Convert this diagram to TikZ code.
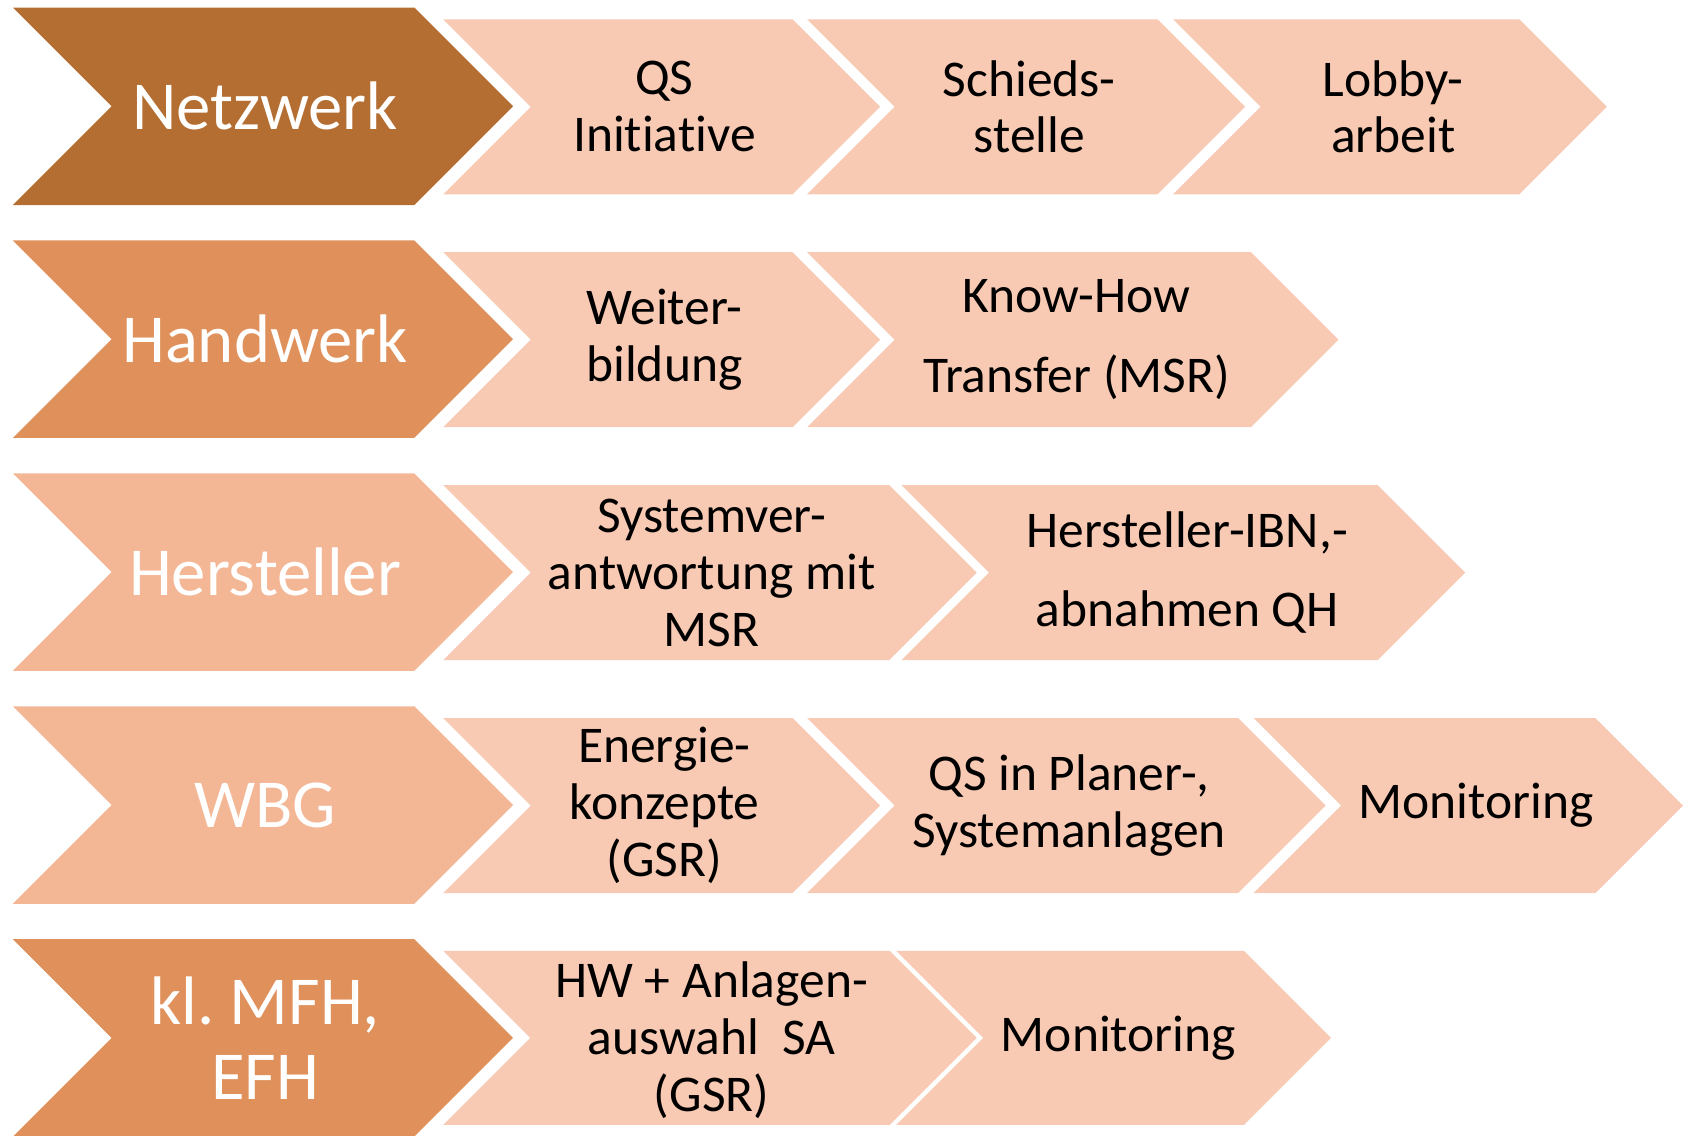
\documentclass[tikz,border=0pt]{standalone}
\usepackage{fontspec}
\setmainfont[Ligatures=NoCommon]{Carlito}
\frenchspacing

\definecolor{netz}{HTML}{B46E32}
\definecolor{hand}{HTML}{E0905A}
\definecolor{herst}{HTML}{F4B796}
\definecolor{schritt}{HTML}{F8CAB4}

\tikzset{
	bigtxt/.style = {text=white, font=\fontsize{32}{35}\selectfont, align=center, inner sep=0pt},
	smalltxt/.style = {text=black, font=\fontsize{24}{26.5}\selectfont, align=center, inner sep=0pt},
	widetxt/.style = {smalltxt, font=\fontsize{24}{37}\selectfont}
}

% left x, top y, tip x, bottom y, colour
\newcommand{\chevron}[5]{
	\fill[#5] (#1,#2) -- ({#3-(#4-#2)/2},#2) -- (#3,{(#2+#4)/2}) -- ({#3-(#4-#2)/2},#4)
		-- (#1,#4) -- ({#1+(#4-#2)/2},{(#2+#4)/2}) -- cycle;
}

\begin{document}
\begin{tikzpicture}[x=0.5pt, y=-0.5pt]
	\useasboundingbox (0,0) rectangle (1568,1058);
	% first column
	\foreach \name/\col/\txt [count=\r from 0, evaluate=\r as \top using int(7+217*\r),
		evaluate=\r as \bot using int(191+217*\r)] in
		{netzwerk/netz/Netzwerk, handwerk/hand/Handwerk, hersteller/herst/Hersteller,
		 wbg/herst/WBG, mfh/hand/{kl. MFH,\\EFH}}
	{
		\chevron{12}{\top}{478}{\bot}{\col}
		\node[bigtxt] (\name) at (247,{(\top+\bot)/2}) {\txt};
	}
	% Netzwerk
	\chevron{413}{18}{820}{181}{schritt}
	\chevron{752}{18}{1160}{181}{schritt}
	\chevron{1093}{18}{1497}{181}{schritt}
	\node[smalltxt] (qsinit) at (619,99.5) {QS\\Initiative};
	\node[smalltxt] (schieds) at (959,99.5) {Schieds-\\stelle};
	\node[smalltxt] (lobby) at (1298,99.5) {Lobby-\\arbeit};
	% Handwerk
	\chevron{413}{235}{820}{398}{schritt}
	\chevron{752}{235}{1247}{398}{schritt}
	\node[smalltxt] (weiterb) at (619,316.5) {Weiter-\\bildung};
	\node[widetxt] (knowhow) at (1003,316.5) {Know-How\\Transfer (MSR)};
	% Hersteller
	\chevron{413}{452}{910}{615}{schritt}
	\chevron{840}{452}{1365}{615}{schritt}
	\node[smalltxt] (sysver) at (663,533.5) {Systemver-\\antwortung mit\\MSR};
	\node[widetxt] (ibn) at (1106,533.5) {Hersteller-IBN,-\\abnahmen QH};
	% WBG
	\chevron{413}{669}{820}{832}{schritt}
	\chevron{752}{669}{1235}{832}{schritt}
	\chevron{1168}{669}{1568}{832}{schritt}
	\node[smalltxt] (energie) at (619,750.5) {Energie-\\konzepte\\(GSR)};
	\node[smalltxt] (qsplaner) at (996,750.5) {QS in Planer-,\\Systemanlagen};
	\node[smalltxt] (monwbg) at (1375,750.5) {Monitoring};
	% kl. MFH, EFH
	\chevron{413}{886}{910}{1048}{schritt}
	\chevron{835}{886}{1240}{1048}{schritt}
	\node[smalltxt] (hwanl) at (663,969) {HW + Anlagen-\\auswahl~ SA\\(GSR)};
	\node[smalltxt] (monmfh) at (1042,967) {Monitoring};
\end{tikzpicture}
\end{document}
